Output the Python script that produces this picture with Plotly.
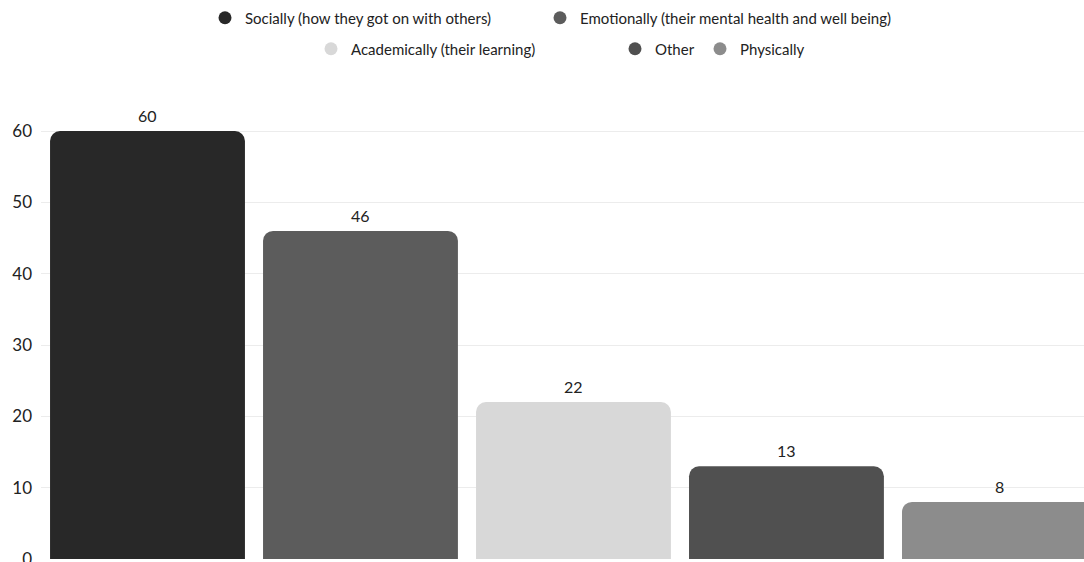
import plotly.graph_objects as go

categories = ["Socially (how they got on with others)",
              "Emotionally (their mental health and well being)",
              "Academically (their learning)",
              "Other",
              "Physically"]
values = [60, 46, 22, 13, 8]
colors = ["#282828", "#5c5c5c", "#d8d8d8", "#505050", "#8c8c8c"]
y_ticks = [0, 10, 20, 30, 40, 50, 60]

W, H = 1084, 562
FONT = "Lato, 'Open Sans', sans-serif"

fig = go.Figure()
fig.add_trace(go.Bar(
    x=categories, y=values,
    marker=dict(color=colors, line=dict(width=0)),
    showlegend=False, cliponaxis=False,
))
# value labels above the bars, positioned through the data axes
for c, v in zip(categories, values):
    fig.add_annotation(x=c, y=v, text=str(v), showarrow=False,
                       yanchor="bottom", yshift=4,
                       font=dict(size=16, color="#222", family=FONT))

# legend entries (circle markers), one legend each for exact placement
leg_pos = [(227, 18), (562, 18), (333, 49), (637, 49), (722, 49)]
for i, (name, col) in enumerate(zip(categories, colors)):
    lname = "legend" if i == 0 else f"legend{i+1}"
    fig.add_trace(go.Scatter(
        x=[None], y=[None], mode="markers", name=name,
        marker=dict(symbol="circle", size=13, color=col),
        legend=lname, showlegend=True,
    ))

layout_legends = {}
for i, (mx, my) in enumerate(leg_pos):
    lname = "legend" if i == 0 else f"legend{i+1}"
    layout_legends[lname] = dict(
        xref="container", yref="container",
        x=(mx - 22) / W, y=1 - my / H,
        xanchor="left", yanchor="middle",
        orientation="h", bgcolor="rgba(0,0,0,0)",
        font=dict(size=15, color="#222", family=FONT),
        borderwidth=0,
    )

fig.update_layout(
    width=W, height=H,
    margin=dict(l=41, r=0, t=100, b=3),
    plot_bgcolor="white", paper_bgcolor="white",
    bargap=0.085, barcornerradius=10,
    font=dict(family=FONT, size=15, color="#222"),
    xaxis=dict(showticklabels=False, showgrid=False, zeroline=False,
               range=[-0.5, 4.397], fixedrange=True),
    yaxis=dict(range=[0, 64.35], tickvals=y_ticks, showgrid=True,
               gridcolor="#ececec", gridwidth=1, zeroline=False,
               tickfont=dict(size=17, color="#222", family=FONT),
               ticklabelstandoff=8, automargin=False,
               ticklabeloverflow="allow"),
    **layout_legends,
)

fig.write_html("out.html", config={"displayModeBar": False},
               post_script="document.body.style.margin='0';document.body.style.overflow='hidden';")
